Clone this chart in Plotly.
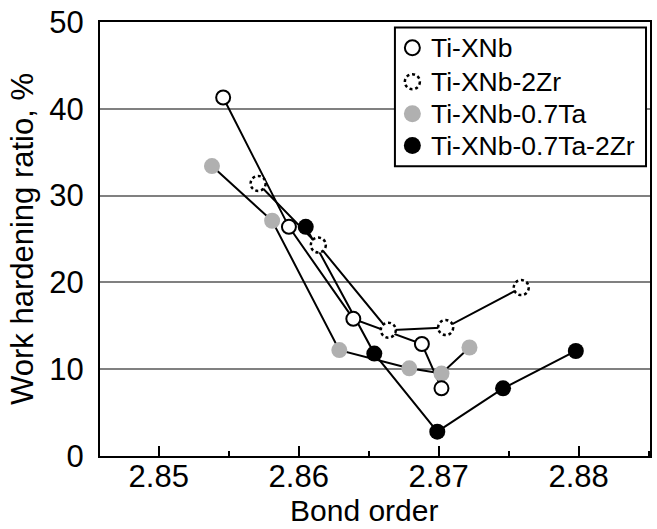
import plotly.graph_objects as go

# Data
nb_x = [2.8546, 2.8593, 2.8639, 2.8688, 2.8702]
nb_y = [41.3, 26.4, 15.8, 12.9, 7.8]
zr_x = [2.8571, 2.8614, 2.8664, 2.8705, 2.8759]
zr_y = [31.4, 24.3, 14.5, 14.8, 19.4]
ta_x = [2.8538, 2.8581, 2.8629, 2.8679, 2.8702, 2.8722]
ta_y = [33.4, 27.1, 12.2, 10.1, 9.5, 12.5]
tazr_x = [2.8605, 2.8654, 2.8699, 2.8746, 2.8798]
tazr_y = [26.4, 11.8, 2.8, 7.8, 12.1]

series_names = ["Ti-XNb", "Ti-XNb-2Zr", "Ti-XNb-0.7Ta", "Ti-XNb-0.7Ta-2Zr"]
x_ticks = [2.85, 2.86, 2.87, 2.88]
y_ticks = [0, 10, 20, 30, 40, 50]

FONT = "Liberation Sans, Arial, Helvetica, sans-serif"
GRAY = "#b0b0b0"

fig = go.Figure()

# connecting lines first (below all markers)
for xs, ys in [(nb_x, nb_y), (zr_x, zr_y), (ta_x, ta_y), (tazr_x, tazr_y)]:
    fig.add_trace(go.Scatter(x=xs, y=ys, mode="lines",
                             line=dict(color="black", width=2),
                             showlegend=False, hoverinfo="skip"))

# markers
fig.add_trace(go.Scatter(x=ta_x, y=ta_y, mode="markers", showlegend=False,
                         marker=dict(size=16, color=GRAY, line=dict(width=0))))
fig.add_trace(go.Scatter(x=tazr_x, y=tazr_y, mode="markers", showlegend=False,
                         marker=dict(size=16, color="black", line=dict(width=0))))
fig.add_trace(go.Scatter(x=nb_x, y=nb_y, mode="markers", showlegend=False,
                         marker=dict(size=14, color="white",
                                     line=dict(width=2, color="black"))))

# dotted circles for Ti-XNb-2Zr, anchored at data points
R = 7.5
for x, y in zip(zr_x, zr_y):
    fig.add_shape(type="circle", xref="x", yref="y",
                  xsizemode="pixel", ysizemode="pixel",
                  xanchor=x, yanchor=y, x0=-R, x1=R, y0=-R, y1=R,
                  line=dict(color="black", width=2.5, dash="3px,2.8px"),
                  fillcolor="white", layer="above")

# manual legend
def px2paper_x(px):
    return (px - 100) / 552.0

def px2paper_y(py):
    return (456 - py) / 438.0

fig.add_shape(type="rect", xref="paper", yref="paper",
              x0=px2paper_x(396), x1=px2paper_x(648),
              y0=px2paper_y(163.5), y1=px2paper_y(23.5),
              line=dict(color="black", width=2), fillcolor="white", layer="above")

rows_py = [44, 78.3, 110.7, 142.7]
gx = px2paper_x(413.5)
r = 8.5
styles = [
    dict(line=dict(color="black", width=2), fillcolor="white"),
    dict(line=dict(color="black", width=2.5, dash="3px,2.8px"), fillcolor="white"),
    dict(line=dict(color=GRAY, width=0), fillcolor=GRAY),
    dict(line=dict(color="black", width=0), fillcolor="black"),
]
for name, py, st in zip(series_names, rows_py, styles):
    rr = r - 1 if st["line"]["width"] > 0 else r
    fig.add_shape(type="circle", xref="paper", yref="paper",
                  xsizemode="pixel", ysizemode="pixel",
                  xanchor=gx, yanchor=px2paper_y(py),
                  x0=-rr, x1=rr, y0=-rr, y1=rr, layer="above", **st)
    fig.add_annotation(x=px2paper_x(430), y=px2paper_y(py), xref="paper", yref="paper",
                       text=name, showarrow=False, xanchor="left", yanchor="middle",
                       font=dict(family=FONT, size=26.5, color="black"))

# x-axis title placed below the tick labels
fig.add_annotation(x=0.48, y=px2paper_y(529), xref="paper", yref="paper",
                   text="Bond order", showarrow=False, xanchor="center", yanchor="bottom",
                   borderpad=0,
                   font=dict(family=FONT, size=30, color="black"))

fig.update_layout(
    width=657, height=529,
    margin=dict(l=100, r=5, t=18, b=73),
    paper_bgcolor="white", plot_bgcolor="white",
    font=dict(family=FONT, size=31, color="black"),
    showlegend=False,
)
fig.update_xaxes(
    range=[2.8458, 2.8851],
    tickvals=x_ticks, ticktext=[f"{v:.2f}" for v in x_ticks],
    ticks="inside", ticklen=10, tickwidth=2, tickcolor="black",
    minor=dict(dtick=0.005, tick0=2.845, ticks="inside", ticklen=5,
               tickwidth=2, tickcolor="black", showgrid=False),
    showline=True, linecolor="black", linewidth=2, mirror=True,
    showgrid=False, zeroline=False,
    tickfont=dict(size=31), ticklabelstandoff=-8,
)
fig.update_yaxes(
    range=[0, 50],
    tickvals=y_ticks,
    ticks="", showline=True, linecolor="black", linewidth=2, mirror=True,
    showgrid=True, gridcolor="#808080", gridwidth=2, zeroline=False,
    tickfont=dict(size=31), ticklabelstandoff=8,
    title=dict(text="Work hardening ratio, %", font=dict(size=31), standoff=6),
)

fig.write_html("out.html")
